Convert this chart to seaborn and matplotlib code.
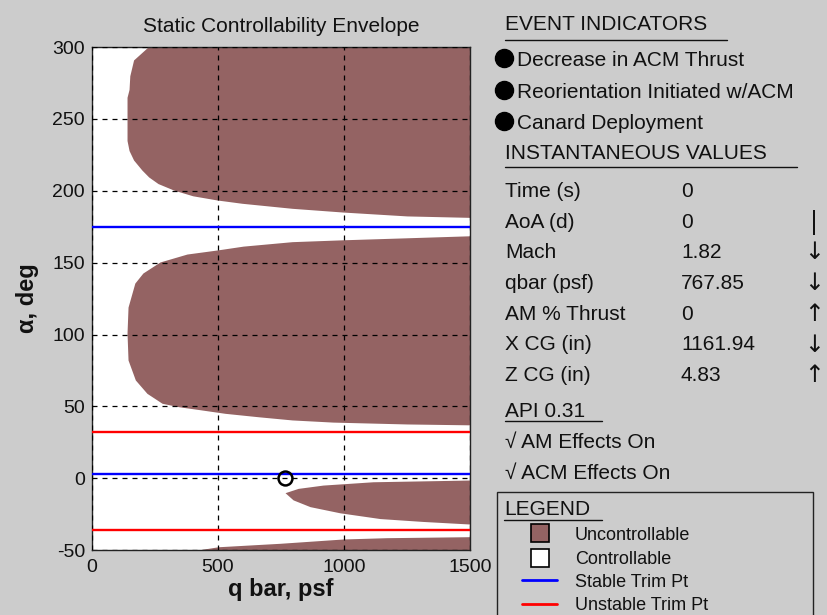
import matplotlib
matplotlib.use("Agg")
import matplotlib.pyplot as plt
from matplotlib.lines import Line2D
from matplotlib.patches import Rectangle
import seaborn as sns

W, H = 828, 615

# uncontrollable regions: left edge (qbar, psf) vs alpha (deg); right edge is qbar max
top_alpha = [181.5, 182.5, 185.2, 187.8, 191.3, 193.6, 196.5, 200.5, 205, 209.6,
             214.4, 221.4, 228, 235, 250, 265, 270.5, 280, 291, 300]
top_q = [1500, 1250, 996, 794, 595, 496, 400, 324, 262, 225,
         198, 165, 147, 139, 139, 139, 147, 150, 165, 222]

mid_alpha = [37.2, 37.8, 39.1, 40.6, 42.8, 45.2, 47.5, 49.8, 52.2, 59.1, 68.4,
             82.3, 101, 119.1, 135.8, 142.8, 150.5, 156, 158.8, 161.5, 164.6,
             165.9, 167.3, 168.7]
mid_q = [1500, 1250, 956, 794, 661, 528, 437, 344, 278, 218, 172,
         143, 139, 143, 170, 202, 270, 377, 496, 600, 794,
         996, 1250, 1500]

wedge_alpha = [-31.8, -30, -28, -24, -19.7, -15, -10, -7, -4.7, -2.4, -1.2]
wedge_q = [1500, 1313, 1143, 984, 865, 798, 766, 818, 917, 1115, 1500]

low_alpha = [-50, -47.6, -45.2, -42.2, -41.3, -40.6]
low_q = [415, 501, 746, 997, 1169, 1500]

stable_trim = [174.6, 2.8]
unstable_trim = [32, -36]
current_q = 767.85
current_aoa = 0

x_ticks = [0, 500, 1000, 1500]
y_ticks = [-50, 0, 50, 100, 150, 200, 250, 300]

event_labels = ["Decrease in ACM Thrust", "Reorientation Initiated w/ACM", "Canard Deployment"]
value_names = ["Time (s)", "AoA (d)", "Mach", "qbar (psf)", "AM % Thrust", "X CG (in)", "Z CG (in)"]
value_nums = ["0", "0", "1.82", "767.85", "0", "1161.94", "4.83"]
value_trend = ["", "|", "\u2193", "\u2193", "\u2191", "\u2193", "\u2191"]
effect_labels = ["\u221a AM Effects On", "\u221a ACM Effects On"]
legend_labels = ["Uncontrollable", "Controllable", "Stable Trim Pt", "Unstable Trim Pt"]

BROWN = "#946363"
BG = "#cccccc"
INK = "#111111"

sns.set_style("white")
plt.rcParams["font.family"] = ["Liberation Sans", "DejaVu Sans"]
plt.rcParams["axes.unicode_minus"] = False


def fx(x):
    return x / W


def fy(y):
    return 1 - y / H


fig = plt.figure(figsize=(W / 100, H / 100), dpi=100, facecolor=BG)
ax = fig.add_axes([fx(92), fy(550.2), (470 - 92) / W, (550.2 - 47) / H])
ax.set_facecolor("white")

for a, q in [(top_alpha, top_q), (mid_alpha, mid_q), (wedge_alpha, wedge_q), (low_alpha, low_q)]:
    ax.fill_betweenx(a, q, x_ticks[-1], color=BROWN, lw=0, zorder=1)

for a in stable_trim:
    ax.axhline(a, color="#0000ff", lw=1.7, zorder=3)
for a in unstable_trim:
    ax.axhline(a, color="#ff0000", lw=1.7, zorder=3)

ax.plot([current_q], [current_aoa], marker="o", ms=10, mfc="none", mec="black", mew=1.8, zorder=4)

ax.set_xlim(x_ticks[0], x_ticks[-1])
ax.set_ylim(y_ticks[0], y_ticks[-1])
ax.set_xticks(x_ticks)
ax.set_yticks(y_ticks)
ax.set_axisbelow(False)
ax.grid(True, color="black", linestyle=(0, (4, 4)), lw=0.9)
for s in ax.spines.values():
    s.set_color("#222222")
    s.set_linewidth(1)
ax.tick_params(direction="in", length=3, width=0.8, labelsize=14, colors=INK)
ax.tick_params(axis="x", pad=6)
ax.tick_params(axis="y", pad=5)

ax.set_title("Static Controllability Envelope", fontsize=15, pad=11, color=INK)
ax.set_xlabel("q bar, psf", fontsize=17, fontweight="bold", labelpad=2, color=INK)
ax.set_ylabel("\u03b1, deg", fontsize=17, fontweight="bold", labelpad=10, color=INK)


def underline(x0, x1, y):
    fig.add_artist(Line2D([fx(x0), fx(x1)], [fy(y), fy(y)], color=INK, lw=1))


# event indicators
fig.text(fx(505), fy(30), "EVENT INDICATORS", fontsize=15, color=INK)
underline(505, 727, 40)
for i, lab in enumerate(event_labels):
    y = 66 + 31.5 * i
    fig.add_artist(Line2D([fx(504)], [fy(y - 8)], marker="o", ms=13, color="black"))
    fig.text(fx(517), fy(y), lab, fontsize=15, color=INK)

# instantaneous values
fig.text(fx(505), fy(159), "INSTANTANEOUS VALUES", fontsize=15, color=INK)
underline(505, 797, 167)
for i in range(len(value_names)):
    y = 197 + 30.7 * i
    fig.text(fx(505), fy(y), value_names[i], fontsize=15, color=INK)
    fig.text(fx(681), fy(y), value_nums[i], fontsize=15, color=INK)
    fig.text(fx(814), fy(y + 1), value_trend[i], fontsize=17, color=INK, ha="center",
             family="DejaVu Sans")

fig.text(fx(505), fy(417), "API 0.31", fontsize=15, color=INK)
underline(505, 602, 421)
for i, lab in enumerate(effect_labels):
    fig.text(fx(505), fy(448 + 30.5 * i), lab, fontsize=15, color=INK)

# legend box
fig.add_artist(Rectangle((fx(497), fy(625)), (813 - 497) / W, (625 - 492) / H,
                         transform=fig.transFigure, fill=False, ec="#222222", lw=1))
fig.text(fx(504), fy(515), "LEGEND", fontsize=15, color=INK)
underline(504, 602, 520)
fig.add_artist(Rectangle((fx(531), fy(542)), 18 / W, 18 / H, transform=fig.transFigure,
                         fc=BROWN, ec="black", lw=1.2))
fig.add_artist(Rectangle((fx(531), fy(567)), 18 / W, 18 / H, transform=fig.transFigure,
                         fc="white", ec="black", lw=1.2))
fig.add_artist(Line2D([fx(522), fx(557)], [fy(580), fy(580)], color="#0000ff", lw=2))
fig.add_artist(Line2D([fx(522), fx(557)], [fy(604), fy(604)], color="#ff0000", lw=2))
for i, lab in enumerate(legend_labels):
    fig.text(fx(575), fy(540 + 23.5 * i), lab, fontsize=13, color=INK)

fig.savefig("out.png", dpi=100, facecolor=BG)
